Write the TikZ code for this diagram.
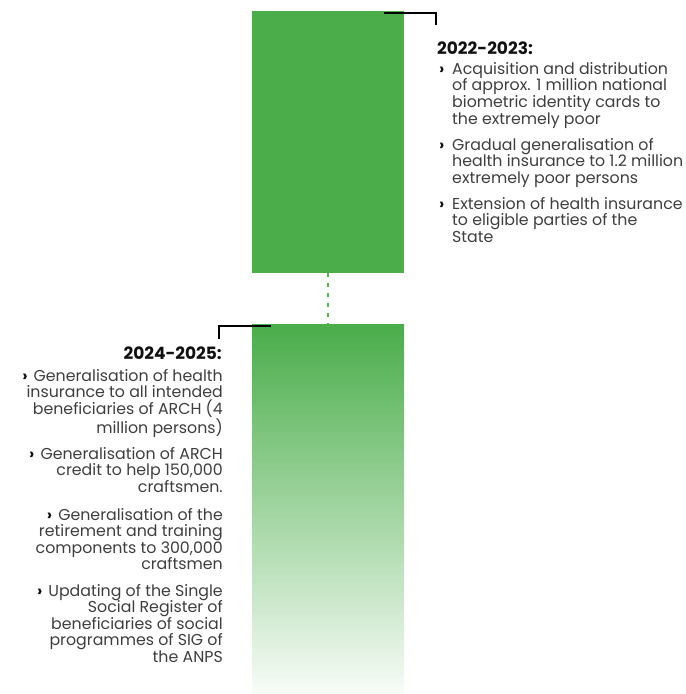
\documentclass[tikz,border=0pt]{standalone}
\usepackage{fontspec}
\setmainfont{Poppins}
\definecolor{bargreen}{RGB}{74,173,74}
\definecolor{dashgreen}{RGB}{84,180,84}
\definecolor{bodygrey}{RGB}{62,62,62}
\definecolor{headblack}{RGB}{17,17,17}
\newcommand{\bulletmark}{{\bfseries\color{headblack}›}\hspace{6bp}}
\begin{document}
\begin{tikzpicture}[x=1bp,y=-1bp,
  bar/.style={draw=none, inner sep=0pt, outer sep=0pt, minimum width=152bp, anchor=north west},
  bodytext/.style={font=\fontsize{15.8bp}{16.6bp}\selectfont, text=bodygrey, inner sep=0pt},
  headtext/.style={font=\fontsize{17bp}{16.6bp}\selectfont\bfseries, text=headblack, inner sep=0pt},
  bullettext/.style={font=\fontsize{15.8bp}{16.6bp}\selectfont\bfseries, text=headblack, inner sep=0pt},
  bracket/.style={line width=2.5bp, draw=black},
  gdash/.style={line width=2.8bp, draw=dashgreen, dash pattern=on 4bp off 6bp}]
\useasboundingbox (0,0) rectangle (686,694);
% bars
\node[bar, fill=bargreen, minimum height=262bp] (bar1) at (252,11) {};
\node[bar, top color=bargreen, bottom color=bargreen!4!white, minimum height=370bp] (bar2) at (252,324) {};
\draw[gdash] (bar1.south) -- (bar2.north);
% brackets
\coordinate (ta) at (384,13);
\coordinate (tb) at (436,13);
\coordinate (tc) at (436,25);
\draw[bracket] (ta) -- (tb) -- (tc);
\coordinate (ba) at (271,326);
\coordinate (bb) at (219,326);
\coordinate (bc) at (219,339);
\draw[bracket] (ba) -- (bb) -- (bc);
% top text (base anchor = baseline of last line)
\node[headtext, anchor=base west] (h1) at (437,55) {2022-2023:};
\node[bullettext, anchor=base west] (b1) at (439,74.3) {›};
\node[bodytext, anchor=base west, align=left] (p1) at (452,124.1) {Acquisition and distribution\\of approx. 1 million national\\biometric identity cards to\\the extremely poor};
\node[bullettext, anchor=base west] (b2) at (439,150) {›};
\node[bodytext, anchor=base west, align=left] (p2) at (452,183.2) {Gradual generalisation of\\health insurance to 1.2 million\\extremely poor persons};
\node[bullettext, anchor=base west] (b3) at (439,209) {›};
\node[bodytext, anchor=base west, align=left] (p3) at (452,242.2) {Extension of health insurance\\to eligible parties of the\\State};
% bottom text
\node[headtext, anchor=base east] (h2) at (222,359) {2024-2025:};
\node[bodytext, anchor=base east, align=right] (q1) at (223,433.1) {\bulletmark Generalisation of health\\insurance to all intended\\beneficiaries of ARCH (4\\million persons)};
\node[bodytext, anchor=base east, align=right] (q2) at (223,492.5) {\bulletmark Generalisation of ARCH\\credit to help 150,000\\craftsmen.};
\node[bodytext, anchor=base east, align=right] (q3) at (223,569.8) {\bulletmark Generalisation of the\\retirement and training\\components to 300,000\\craftsmen};
\node[bodytext, anchor=base east, align=right] (q4) at (223,662.4) {\bulletmark Updating of the Single\\Social Register of\\beneficiaries of social\\programmes of SIG of\\the ANPS};
\end{tikzpicture}
\end{document}
